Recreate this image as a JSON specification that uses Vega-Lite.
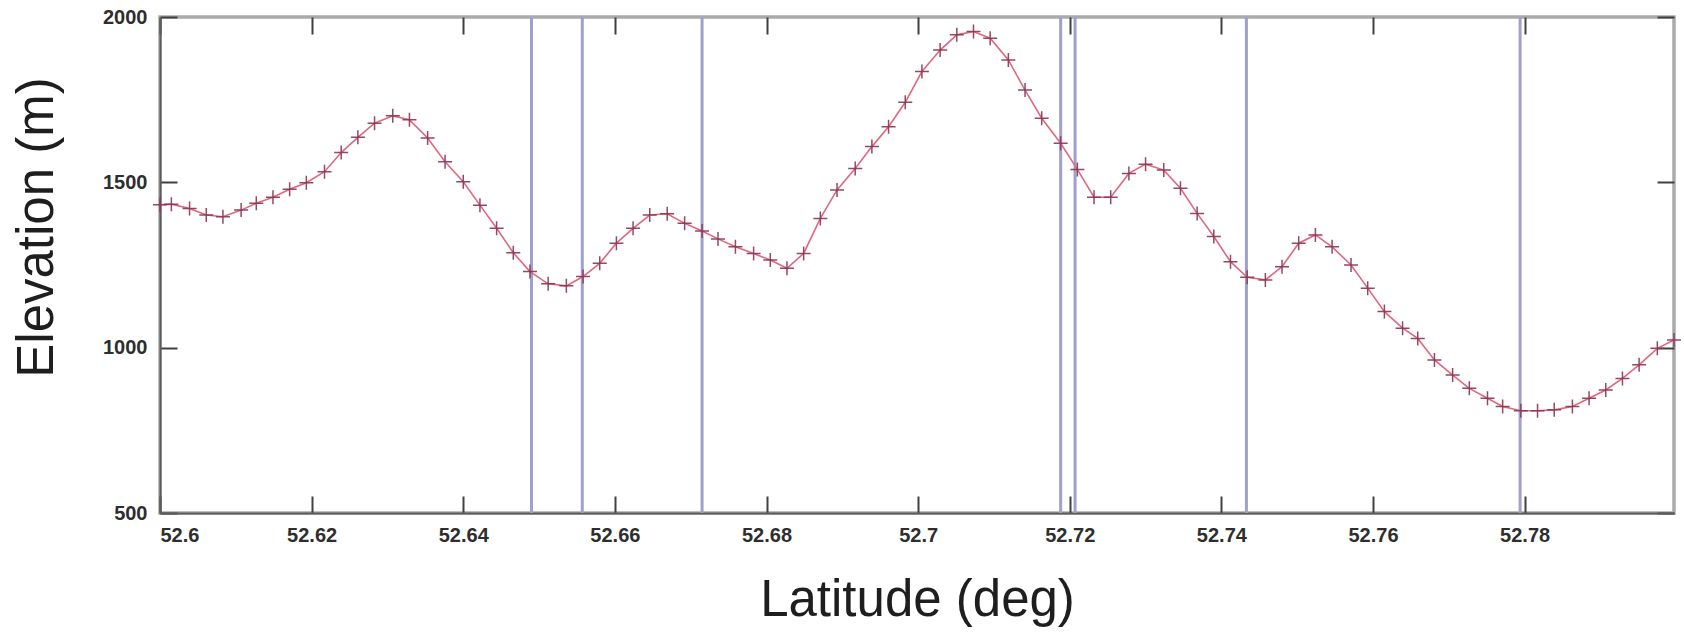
{
  "$schema": "https://vega.github.io/schema/vega-lite/v6.json",
  "width": 1514,
  "height": 496,
  "autosize": {"type": "none"},
  "padding": {"left": 160, "top": 17, "right": 10, "bottom": 124},
  "background": "white",
  "config": {
    "view": {"stroke": "#aaaaaa", "strokeWidth": 3.5},
    "axis": {
      "labelFont": "Liberation Sans",
      "labelFontWeight": "bold",
      "labelFontSize": 20,
      "labelColor": "#2e2e2e",
      "titleFont": "Liberation Sans",
      "titleFontWeight": "normal",
      "titleFontSize": 51,
      "titleColor": "#1e1e1e",
      "ticks": false,
      "gridColor": "#404040",
      "gridWidth": 2,
      "gridOpacity": 1
    }
  },
  "datasets": {
    "profile": [
      {"lat": 52.6000, "elev": 1432}, {"lat": 52.6015, "elev": 1434}, {"lat": 52.6039, "elev": 1421},
      {"lat": 52.6061, "elev": 1401}, {"lat": 52.6083, "elev": 1396}, {"lat": 52.6107, "elev": 1416},
      {"lat": 52.6127, "elev": 1437}, {"lat": 52.6149, "elev": 1455}, {"lat": 52.6171, "elev": 1479},
      {"lat": 52.6193, "elev": 1499}, {"lat": 52.6217, "elev": 1532}, {"lat": 52.6239, "elev": 1590},
      {"lat": 52.6261, "elev": 1636}, {"lat": 52.6283, "elev": 1679}, {"lat": 52.6307, "elev": 1701},
      {"lat": 52.6329, "elev": 1689}, {"lat": 52.6353, "elev": 1634}, {"lat": 52.6376, "elev": 1562},
      {"lat": 52.6400, "elev": 1502}, {"lat": 52.6422, "elev": 1431}, {"lat": 52.6444, "elev": 1361},
      {"lat": 52.6466, "elev": 1287}, {"lat": 52.6488, "elev": 1230}, {"lat": 52.6512, "elev": 1193},
      {"lat": 52.6536, "elev": 1187}, {"lat": 52.6558, "elev": 1215}, {"lat": 52.6580, "elev": 1255},
      {"lat": 52.6602, "elev": 1316}, {"lat": 52.6624, "elev": 1361}, {"lat": 52.6646, "elev": 1401},
      {"lat": 52.6669, "elev": 1405}, {"lat": 52.6692, "elev": 1376}, {"lat": 52.6715, "elev": 1353},
      {"lat": 52.6736, "elev": 1329}, {"lat": 52.6759, "elev": 1305}, {"lat": 52.6783, "elev": 1285},
      {"lat": 52.6805, "elev": 1265}, {"lat": 52.6827, "elev": 1240}, {"lat": 52.6849, "elev": 1285},
      {"lat": 52.6871, "elev": 1391}, {"lat": 52.6893, "elev": 1477}, {"lat": 52.6917, "elev": 1542},
      {"lat": 52.6939, "elev": 1608}, {"lat": 52.6961, "elev": 1668}, {"lat": 52.6983, "elev": 1742},
      {"lat": 52.7005, "elev": 1835}, {"lat": 52.7029, "elev": 1900}, {"lat": 52.7051, "elev": 1946},
      {"lat": 52.7073, "elev": 1956}, {"lat": 52.7095, "elev": 1936}, {"lat": 52.7119, "elev": 1870},
      {"lat": 52.7141, "elev": 1779}, {"lat": 52.7163, "elev": 1694}, {"lat": 52.7188, "elev": 1618},
      {"lat": 52.7210, "elev": 1539}, {"lat": 52.7232, "elev": 1455}, {"lat": 52.7254, "elev": 1455},
      {"lat": 52.7278, "elev": 1527}, {"lat": 52.7300, "elev": 1555}, {"lat": 52.7324, "elev": 1537},
      {"lat": 52.7346, "elev": 1482}, {"lat": 52.7368, "elev": 1406}, {"lat": 52.7390, "elev": 1336},
      {"lat": 52.7412, "elev": 1260}, {"lat": 52.7434, "elev": 1213}, {"lat": 52.7458, "elev": 1205},
      {"lat": 52.7480, "elev": 1245}, {"lat": 52.7502, "elev": 1316}, {"lat": 52.7524, "elev": 1341},
      {"lat": 52.7546, "elev": 1305}, {"lat": 52.7571, "elev": 1250}, {"lat": 52.7593, "elev": 1180},
      {"lat": 52.7615, "elev": 1109}, {"lat": 52.7639, "elev": 1059}, {"lat": 52.7659, "elev": 1028},
      {"lat": 52.7681, "elev": 963}, {"lat": 52.7705, "elev": 917}, {"lat": 52.7727, "elev": 877},
      {"lat": 52.7751, "elev": 847}, {"lat": 52.7771, "elev": 822}, {"lat": 52.7795, "elev": 809},
      {"lat": 52.7817, "elev": 809}, {"lat": 52.7839, "elev": 812}, {"lat": 52.7863, "elev": 822},
      {"lat": 52.7885, "elev": 847}, {"lat": 52.7907, "elev": 872}, {"lat": 52.7929, "elev": 907},
      {"lat": 52.7951, "elev": 948}, {"lat": 52.7975, "elev": 998}, {"lat": 52.7997, "elev": 1023}
    ],
    "crossings": [
      {"lat": 52.6490}, {"lat": 52.6557}, {"lat": 52.6715}, {"lat": 52.7188},
      {"lat": 52.7207}, {"lat": 52.7433}, {"lat": 52.7794}
    ]
  },
  "layer": [
    {
      "data": {"name": "crossings"},
      "mark": {"type": "rule", "color": "#a0a0cc", "strokeWidth": 3},
      "encoding": {
        "x": {
          "field": "lat",
          "type": "quantitative",
          "scale": {"domain": [52.6, 52.7997], "nice": false, "zero": false},
          "axis": null
        }
      }
    },
    {
      "data": {"name": "profile"},
      "mark": {"type": "line", "color": "#e0687e", "strokeWidth": 1.6},
      "encoding": {
        "x": {
          "field": "lat",
          "type": "quantitative",
          "axis": {
            "orient": "bottom",
            "title": "Latitude (deg)",
            "values": [52.6, 52.62, 52.64, 52.66, 52.68, 52.7, 52.72, 52.74, 52.76, 52.78],
            "format": "~g",
            "grid": true,
            "gridDash": [17, 462, 17],
            "domainColor": "#5c5c5c",
            "domainWidth": 2,
            "labelPadding": 12,
            "titlePadding": 30
          }
        },
        "y": {
          "field": "elev",
          "type": "quantitative",
          "scale": {"domain": [500, 2000], "nice": false, "zero": false},
          "axis": {
            "orient": "left",
            "title": "Elevation (m)",
            "titleY": 210,
            "values": [500, 1000, 1500, 2000],
            "format": "d",
            "grid": true,
            "gridDash": [17, 1480, 17],
            "domainColor": "#5c5c5c",
            "domainWidth": 2,
            "labelPadding": 13,
            "titlePadding": 39
          }
        }
      }
    },
    {
      "data": {"name": "profile"},
      "mark": {
        "type": "point",
        "shape": "M-1,0L1,0M0,-1L0,1",
        "filled": false,
        "size": 196,
        "strokeWidth": 1.5,
        "color": "#8a3553",
        "opacity": 0.9
      },
      "encoding": {
        "x": {"field": "lat", "type": "quantitative", "axis": null},
        "y": {"field": "elev", "type": "quantitative", "axis": null}
      }
    }
  ],
  "resolve": {"axis": {"x": "independent", "y": "independent"}}
}
